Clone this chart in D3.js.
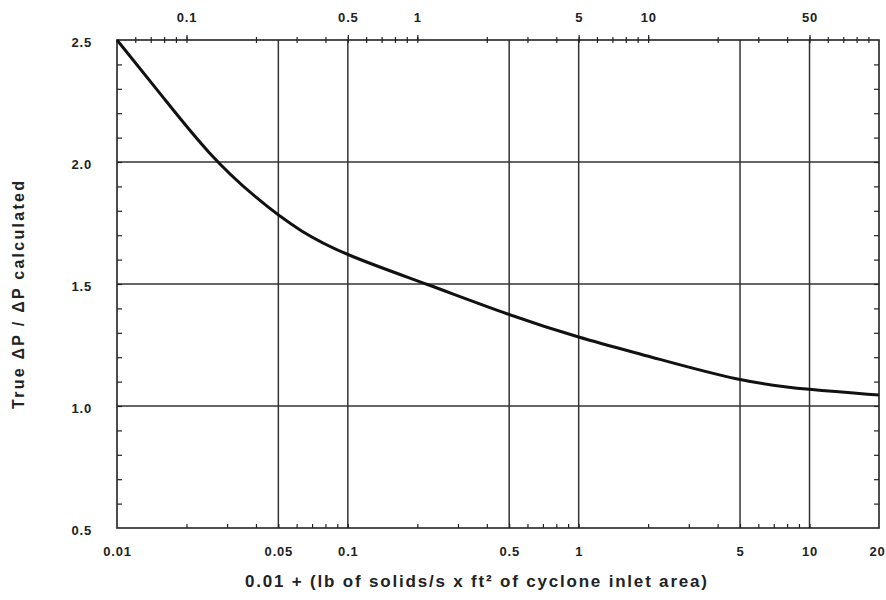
<!DOCTYPE html>
<html>
<head>
<meta charset="utf-8">
<script src="https://cdn.jsdelivr.net/npm/d3@7"></script>
<style>
  html, body { margin: 0; padding: 0; background: #fff; }
  svg { display: block; }
  text { font-family: "Liberation Sans", Arial, sans-serif; font-weight: bold; fill: #222; }
</style>
</head>
<body>
<svg id="chart" width="886" height="600"></svg>
<script>
// ---- data ----
const flowValues  = [0.01, 0.016, 0.025, 0.04, 0.063, 0.1, 0.22, 0.5, 1, 2, 5, 10, 20];
const ratioValues = [2.5, 2.26, 2.03, 1.85, 1.71, 1.615, 1.5, 1.372, 1.28, 1.205, 1.10, 1.066, 1.045];

const bottomTickValues = [0.01, 0.05, 0.1, 0.5, 1, 5, 10, 20];
const bottomTickLabels = ["0.01", "0.05", "0.1", "0.5", "1", "5", "10", "20"];
const topTickValues = [0.1, 0.5, 1, 5, 10, 50];
const topTickLabels = ["0.1", "0.5", "1", "5", "10", "50"];
const yTickValues = [0.5, 1.0, 1.5, 2.0, 2.5];
const yTickLabels = ["0.5", "1.0", "1.5", "2.0", "2.5"];
const gridXValues = [0.05, 0.1, 0.5, 1, 5, 10];
const gridYValues = [1.0, 1.5, 2.0];

const xTitle = "0.01 + (lb of solids/s x ft\u00B2 of cyclone inlet area)";
const yTitle = "True \u0394P / \u0394P calculated";

// ---- layout ----
const pLeft = 117, pRight = 879, pTop = 40, pBottom = 528;
const svg = d3.select("#chart");

const x = d3.scaleLog().domain([0.01, 20]).range([pLeft, pRight]);
const xTop = d3.scaleLog().domain([0.05, 100]).range([pLeft, pRight]);
const y = d3.scaleLinear().domain([0.5, 2.5]).range([pBottom, pTop]);

const ink = "#222";

// grid lines
svg.append("g").selectAll("line").data(gridXValues).join("line")
  .attr("x1", d => x(d)).attr("x2", d => x(d))
  .attr("y1", pTop).attr("y2", pBottom)
  .attr("stroke", "#333").attr("stroke-width", 1.5);
svg.append("g").selectAll("line").data(gridYValues).join("line")
  .attr("x1", pLeft).attr("x2", pRight)
  .attr("y1", d => y(d)).attr("y2", d => y(d))
  .attr("stroke", "#333").attr("stroke-width", 1.5);

// minor ticks
const bottomMinor = x.ticks(40).filter(v => v > 0.01 + 1e-9 && v < 20 - 1e-9);
const topMinor = xTop.ticks(40).filter(v => v > 0.05 + 1e-9 && v < 100 - 1e-9);
const yMinor = d3.range(6, 25).map(v => v / 10);

function styleAxis(g) {
  g.select(".domain").remove();
  g.selectAll(".tick line").attr("stroke", ink).attr("stroke-width", 1.2);
}

svg.append("g").attr("transform", `translate(0,${pBottom})`)
  .call(d3.axisBottom(x).tickValues(bottomMinor).tickSize(-4).tickFormat(""))
  .call(styleAxis);
svg.append("g").attr("transform", `translate(0,${pTop})`)
  .call(d3.axisTop(xTop).tickValues(topMinor).tickSize(3).tickFormat(""))
  .call(styleAxis)
  .selectAll(".tick line").attr("y1", 3);
svg.append("g").attr("transform", `translate(${pLeft},0)`)
  .call(d3.axisLeft(y).tickValues(yMinor).tickSize(-5).tickFormat(""))
  .call(styleAxis);
svg.append("g").attr("transform", `translate(${pRight},0)`)
  .call(d3.axisRight(y).tickValues(yMinor).tickSize(-5).tickFormat(""))
  .call(styleAxis);

// labels
const bottomAxis = svg.append("g").attr("transform", `translate(0,${pBottom})`)
  .call(d3.axisBottom(x).tickValues(bottomTickValues).tickSize(0).tickPadding(19)
        .tickFormat((d, i) => bottomTickLabels[i]))
  .call(styleAxis);
bottomAxis.selectAll("text").attr("font-size", 13).attr("letter-spacing", 0.8).attr("fill", ink);
// last label sits at the right edge: keep it inside the page
bottomAxis.selectAll(".tick").filter(d => d === 20).select("text")
  .attr("text-anchor", "end").attr("x", 885 - pRight);

const topAxis = svg.append("g").attr("transform", `translate(0,${pTop})`)
  .call(d3.axisTop(xTop).tickValues(topTickValues).tickSize(5).tickPadding(13)
        .tickFormat((d, i) => topTickLabels[i]))
  .call(styleAxis);
topAxis.selectAll("text").attr("font-size", 13).attr("letter-spacing", 0.8).attr("fill", ink);

const leftAxis = svg.append("g").attr("transform", `translate(${pLeft},0)`)
  .call(d3.axisLeft(y).tickValues(yTickValues).tickSize(0).tickPadding(25)
        .tickFormat((d, i) => yTickLabels[i]))
  .call(styleAxis);
leftAxis.selectAll("text").attr("font-size", 13).attr("letter-spacing", 0.8).attr("fill", ink)
  .attr("dy", "0.5em");

// frame
svg.append("rect").attr("x", pLeft).attr("y", pTop)
  .attr("width", pRight - pLeft).attr("height", pBottom - pTop)
  .attr("fill", "none").attr("stroke", ink).attr("stroke-width", 1.6);

// curve
const pts = flowValues.map((v, i) => [v, ratioValues[i]]);
svg.append("path").datum(pts)
  .attr("fill", "none").attr("stroke", "#111").attr("stroke-width", 3)
  .attr("stroke-linejoin", "round")
  .attr("d", d3.line().x(d => x(d[0])).y(d => y(d[1])).curve(d3.curveBasis));

// titles
svg.append("text").attr("x", 476).attr("y", 587)
  .attr("text-anchor", "middle").attr("font-size", 17)
  .attr("textLength", 462).attr("lengthAdjust", "spacing")
  .attr("fill", ink).text(xTitle);
svg.append("text").attr("transform", "translate(24,295) rotate(-90)")
  .attr("text-anchor", "middle").attr("font-size", 16)
  .attr("textLength", 228).attr("lengthAdjust", "spacing")
  .attr("fill", ink).text(yTitle);
</script>
</body>
</html>
